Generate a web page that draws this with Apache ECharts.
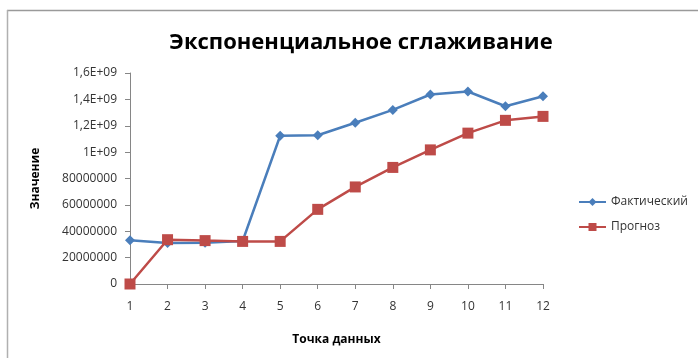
<!DOCTYPE html>
<html>
<head>
<meta charset="utf-8">
<script src="https://cdn.jsdelivr.net/npm/echarts@6/dist/echarts.min.js"></script>
<style>
  html, body { margin: 0; padding: 0; background: #fff; }
  #chart { width: 698px; height: 358px; }
</style>
</head>
<body>
<div id="chart"></div>
<script>
// точки данных
const points = ['1', '2', '3', '4', '5', '6', '7', '8', '9', '10', '11', '12']
// фактические значения и прогноз
const actual = [331e6, 310e6, 313e6, 326e6, 1124e6, 1128e6, 1223e6, 1320e6, 1437e6, 1460e6, 1348e6, 1424e6]
const forecast = [0, 336e6, 329e6, 323e6, 323e6, 566e6, 736e6, 884e6, 1017e6, 1144e6, 1241e6, 1271e6]
// подписи оси Y как в исходнике
const yTickLabels = ['0', '20000000', '40000000', '60000000', '80000000', '1E+09', '1,2E+09', '1,4E+09', '1,6E+09']

const font = '"Open Sans", "DejaVu Sans", sans-serif'
const axisColor = '#868686'

const chart = echarts.init(document.getElementById('chart'))
chart.setOption({
  animation: false,
  textStyle: { fontFamily: font },
  title: {
    text: 'Экспоненциальное сглаживание',
    left: 356,
    top: 27,
    textAlign: 'center',
    textStyle: { fontSize: 22, fontWeight: 'bold', color: '#000', fontFamily: font }
  },
  graphic: [
    { type: 'line', shape: { x1: 7, y1: 10.5, x2: 698, y2: 10.5 }, style: { stroke: '#9a9a9a', lineWidth: 1.5 } },
    { type: 'line', shape: { x1: 7.5, y1: 10, x2: 7.5, y2: 358 }, style: { stroke: '#b0b0b0', lineWidth: 1.5 } }
  ],
  legend: {
    orient: 'vertical',
    left: 573,
    top: 191,
    itemGap: 13,
    itemWidth: 27,
    itemHeight: 10,
    textStyle: { fontSize: 12, color: '#333', fontFamily: font },
    data: ['Фактический', 'Прогноз']
  },
  grid: { left: 130, right: 155, top: 73, bottom: 74 },
  xAxis: {
    type: 'category',
    data: points,
    boundaryGap: false,
    name: 'Точка данных',
    nameLocation: 'middle',
    nameGap: 50,
    nameTextStyle: { fontSize: 12, fontWeight: 'bold', color: '#000' },
    axisLine: { lineStyle: { color: axisColor } },
    axisTick: { alignWithLabel: true, length: 5, lineStyle: { color: axisColor } },
    axisLabel: { fontSize: 12, color: '#333', margin: 17 }
  },
  yAxis: {
    type: 'value',
    min: 0,
    max: 1.6e9,
    interval: 2e8,
    name: 'Значение',
    nameLocation: 'middle',
    nameGap: 88,
    nameRotate: 90,
    nameTextStyle: { fontSize: 12, fontWeight: 'bold', color: '#000' },
    axisLine: { show: true, lineStyle: { color: axisColor } },
    axisTick: { show: true, length: 5, lineStyle: { color: axisColor } },
    splitLine: { show: false },
    axisLabel: {
      fontSize: 12,
      color: '#333',
      margin: 13,
      formatter: (v) => yTickLabels[Math.round(v / 2e8)]
    }
  },
  series: [
    {
      name: 'Фактический',
      type: 'line',
      data: actual,
      symbol: 'diamond',
      symbolSize: 10,
      lineStyle: { width: 2.5, color: '#4a7ebb' },
      itemStyle: { color: '#4a7ebb' }
    },
    {
      name: 'Прогноз',
      type: 'line',
      data: forecast,
      symbol: 'rect',
      symbolSize: 11,
      lineStyle: { width: 2.5, color: '#be4b48' },
      itemStyle: { color: '#be4b48' }
    }
  ]
})
</script>
</body>
</html>
